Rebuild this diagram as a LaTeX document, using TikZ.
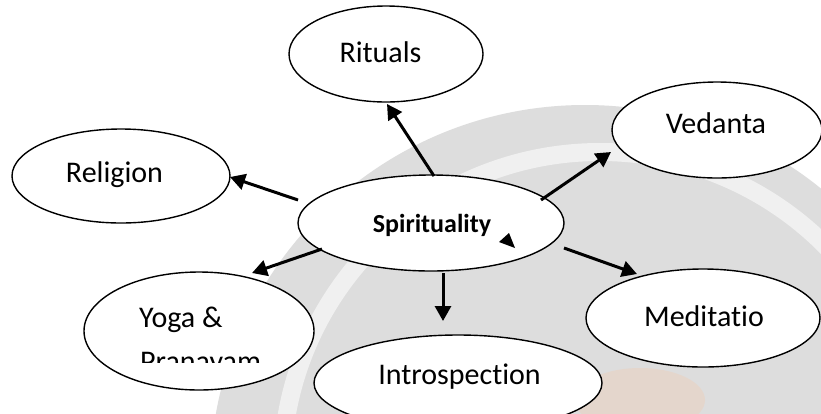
\documentclass[tikz,border=0pt]{standalone}
\usepackage{fontspec}
\setmainfont{Carlito}[Ligatures=NoCommon]
\usetikzlibrary{arrows.meta,shapes.geometric}
\definecolor{wmgray}{RGB}{221,221,221}
\definecolor{wmlight}{RGB}{240,240,240}
\definecolor{wmorange}{RGB}{240,205,180}
\begin{document}
\begin{tikzpicture}[x=1pt,y=-1pt,
  bub/.style={draw=black,line width=1.4pt,fill=white,ellipse,inner sep=0pt},
  lab/.style={anchor=base,font=\fontsize{30}{36}\selectfont,inner sep=0pt},
  arr/.style={line width=3pt,-{Triangle[length=15pt,width=16pt]}}]
\clip (0,0) rectangle (821,413);
\fill[white] (0,0) rectangle (821,413);
% faint watermark
\fill[wmgray] (585,480) circle[radius=375];
\draw[wmlight,line width=18pt] (600,470) circle[radius=318];
\fill[wmorange,opacity=.4] (640,400) ellipse[x radius=65,y radius=32];
% bubbles
\node[bub,minimum width=218pt,minimum height=94pt] (rel) at (121,176) {};
\node[bub,minimum width=194pt,minimum height=96pt] (rit) at (386,54) {};
\node[bub,minimum width=210pt,minimum height=96pt] (ved) at (717,130) {};
\node[bub,minimum width=266pt,minimum height=96pt] (spir) at (431,223) {};
\node[bub,minimum width=230pt,minimum height=118pt] (yoga) at (199,331) {};
\node[bub,minimum width=288pt,minimum height=96pt] (intro) at (458,383) {};
\node[bub,minimum width=234pt,minimum height=98pt] (med) at (703,318) {};
% labels
\node[lab] (relt) at (114.5,182) {Religion};
\node[lab] (ritt) at (380.5,62) {Rituals};
\node[lab] (vedt) at (716,133) {Vedanta};
\node[lab] (medt) at (704,326) {Meditatio};
\node[lab] (introt) at (459.5,384) {Introspection};
\node[lab,font=\bfseries\fontsize{26}{30}\selectfont] (spirt) at (432,232) {Spirituality};
\node[lab,anchor=base west] (yogat) at (139,327) {Yoga \&};
\begin{scope}
\clip (0,0) rectangle (821,362);
\node[lab,anchor=base west] (pranat) at (140,371) {Pranayam};
\end{scope}
% connector end points
\coordinate (a1) at (434,176); \coordinate (b1) at (387,104);
\coordinate (a2) at (298,200); \coordinate (b2) at (230,177);
\coordinate (a3) at (541,200); \coordinate (b3) at (611,152);
\coordinate (a4) at (322,249); \coordinate (b4) at (252,273);
\coordinate (a5) at (443,273); \coordinate (b5) at (443,321);
\coordinate (a6) at (564,248); \coordinate (b6) at (637,274);
\draw[arr] (a1) -- (b1);
\draw[arr] (a2) -- (b2);
\draw[arr] (a3) -- (b3);
\draw[arr] (a4) -- (b4);
\draw[arr] (a5) -- (b5);
\draw[arr] (a6) -- (b6);
% stray arrowhead inside the centre bubble
\fill (509,233) -- (499,242) -- (515,248) -- cycle;
\end{tikzpicture}
\end{document}
